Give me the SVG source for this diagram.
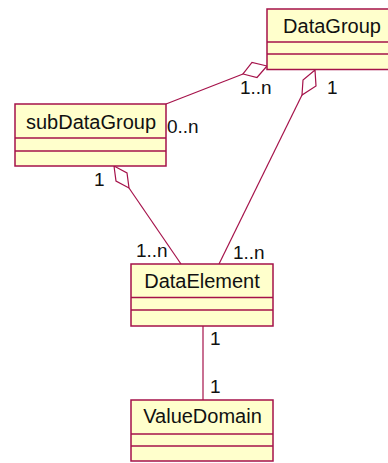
<svg xmlns="http://www.w3.org/2000/svg" width="388" height="463" viewBox="0 0 388 463">
  <style>
    .box { fill: #ffffcc; stroke: #a5124a; stroke-width: 1.5; }
    .sep { stroke: #a5124a; stroke-width: 1.5; }
    .name { font-family: "Liberation Sans", Arial, sans-serif; font-size: 20px; fill: #111; text-anchor: middle; }
    .mult { font-family: "Liberation Sans", Arial, sans-serif; font-size: 19px; fill: #111; }
    .link { stroke: #a5124a; stroke-width: 1.2; fill: none; }
    .agg { stroke: #a5124a; stroke-width: 1.2; fill: #ffffff; }
  </style>
  <rect width="388" height="463" fill="#ffffff"/>

  <!-- associations -->
  <g id="connectors">
    <!-- DataGroup <>- subDataGroup -->
    <line class="link" x1="243" y1="74" x2="166" y2="104"/>
    <polygon class="agg" points="267,66 252,62.5 243,74 257,77.5"/>
    <!-- DataGroup <>- DataElement -->
    <line class="link" x1="302" y1="95" x2="219" y2="264"/>
    <polygon class="agg" points="315,70 303,80 302,95 316,86"/>
    <!-- subDataGroup <>- DataElement -->
    <line class="link" x1="129" y1="188" x2="181" y2="264"/>
    <polygon class="agg" points="114,166 116,181 129,188 127,173"/>
    <!-- DataElement - ValueDomain -->
    <line class="link" x1="203" y1="326" x2="203" y2="400"/>
  </g>

  <g id="DataGroup">
    <rect class="box" x="267" y="9" width="130" height="60.5"/>
    <line class="sep" x1="267" y1="42" x2="397" y2="42"/>
    <line class="sep" x1="267" y1="54" x2="397" y2="54"/>
    <text class="name" x="332" y="33">DataGroup</text>
  </g>

  <g id="subDataGroup">
    <rect class="box" x="15" y="104" width="151" height="62"/>
    <line class="sep" x1="15" y1="138" x2="166" y2="138"/>
    <line class="sep" x1="15" y1="151" x2="166" y2="151"/>
    <text class="name" x="91" y="129">subDataGroup</text>
  </g>

  <g id="DataElement">
    <rect class="box" x="131" y="264" width="142" height="62"/>
    <line class="sep" x1="131" y1="297.5" x2="273" y2="297.5"/>
    <line class="sep" x1="131" y1="310" x2="273" y2="310"/>
    <text class="name" x="202" y="288">DataElement</text>
  </g>

  <g id="ValueDomain">
    <rect class="box" x="131" y="400" width="142" height="61"/>
    <line class="sep" x1="131" y1="434" x2="273" y2="434"/>
    <line class="sep" x1="131" y1="446" x2="273" y2="446"/>
    <text class="name" x="202.5" y="423">ValueDomain</text>
  </g>

  <!-- multiplicities -->
  <g id="labels">
    <text class="mult" x="240" y="94">1..n</text>
    <text class="mult" x="327" y="94">1</text>
    <text class="mult" x="167" y="133">0..n</text>
    <text class="mult" x="94" y="186">1</text>
    <text class="mult" x="136" y="257">1..n</text>
    <text class="mult" x="233" y="259">1..n</text>
    <text class="mult" x="210" y="345">1</text>
    <text class="mult" x="210" y="393">1</text>
  </g>
</svg>
